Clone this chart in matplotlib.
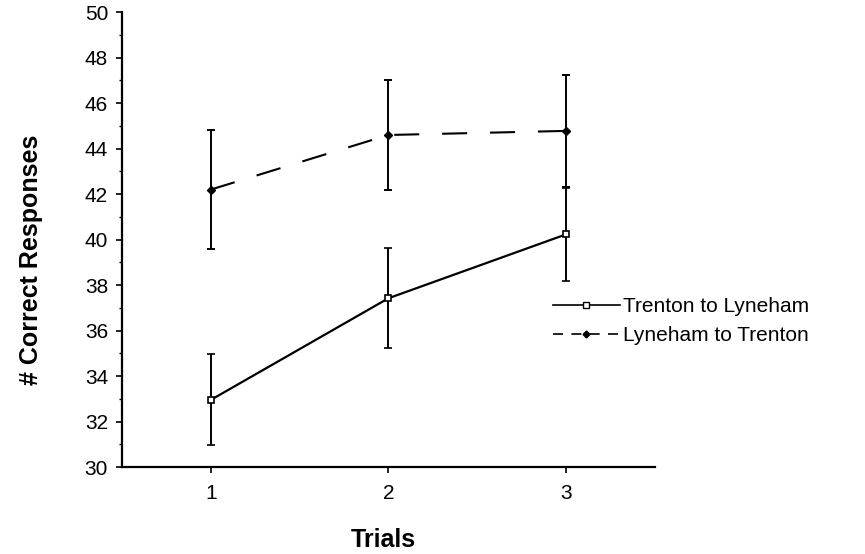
import matplotlib
matplotlib.use("Agg")
import matplotlib.pyplot as plt
from matplotlib.ticker import MultipleLocator
from matplotlib.lines import Line2D

plt.rcParams['font.family'] = ['Liberation Sans', 'DejaVu Sans']

trials = [1, 2, 3]
trial_labels = ["1", "2", "3"]
t2l_mean = [32.95, 37.42, 40.23]
t2l_err = [2.0, 2.2, 2.05]
l2t_mean = [42.2, 44.6, 44.78]
l2t_err = [2.6, 2.4, 2.45]
series_names = ["Trenton to Lyneham", "Lyneham to Trenton"]

fig = plt.figure(figsize=(8.65, 5.54), dpi=100)
ax = fig.add_axes([0.141, 0.157, 0.616, 0.821])

dash = (0, (12, 11))
ax.errorbar(trials, t2l_mean, yerr=t2l_err, color='black', lw=1.6, ls='-',
            marker='s', ms=5, mfc='white', mec='black', mew=1.2,
            ecolor='black', elinewidth=1.4, capsize=3, capthick=1.4)
ax.errorbar(trials, l2t_mean, yerr=l2t_err, color='black', lw=1.5, ls=dash,
            marker='D', ms=4, mfc='black', mec='black',
            ecolor='black', elinewidth=1.4, capsize=3, capthick=1.4)

ax.set_xlim(0.5, 3.5)
ax.set_ylim(30, 50)
ax.set_xticks(trials)
ax.set_xticklabels(trial_labels)
ax.yaxis.set_major_locator(MultipleLocator(2))
ax.yaxis.set_minor_locator(MultipleLocator(1))
ax.spines['top'].set_visible(False)
ax.spines['right'].set_visible(False)
ax.spines['left'].set_linewidth(1.6)
ax.spines['bottom'].set_linewidth(1.6)
ax.tick_params(axis='both', which='major', labelsize=15, length=4, width=1.2, direction='out')
ax.tick_params(axis='y', which='major', pad=6)
ax.tick_params(axis='x', which='major', pad=8)
ax.tick_params(axis='y', which='minor', length=2.5, width=1.0)

ax.set_ylabel("# Correct Responses", fontsize=18, fontweight='bold')
ax.yaxis.set_label_coords(-0.148, 0.455)
ax.set_xlabel("Trials", fontsize=18, fontweight='bold')
ax.xaxis.set_label_coords(0.49, -0.135)

handles = [
    Line2D([], [], color='black', lw=1.2, ls='-', marker='s', ms=4, mfc='white', mec='black'),
    Line2D([], [], color='black', lw=1.2, ls=(0, (6, 5)), marker='D', ms=3.5, mfc='black'),
]
fig.legend(handles, series_names, loc='center left', bbox_to_anchor=(553 / 865, 1 - 321 / 554),
           frameon=False, fontsize=15, handlelength=3.2, handletextpad=0.15,
           labelspacing=0.5, borderpad=0, borderaxespad=0)

fig.savefig("out.png", dpi=100)
